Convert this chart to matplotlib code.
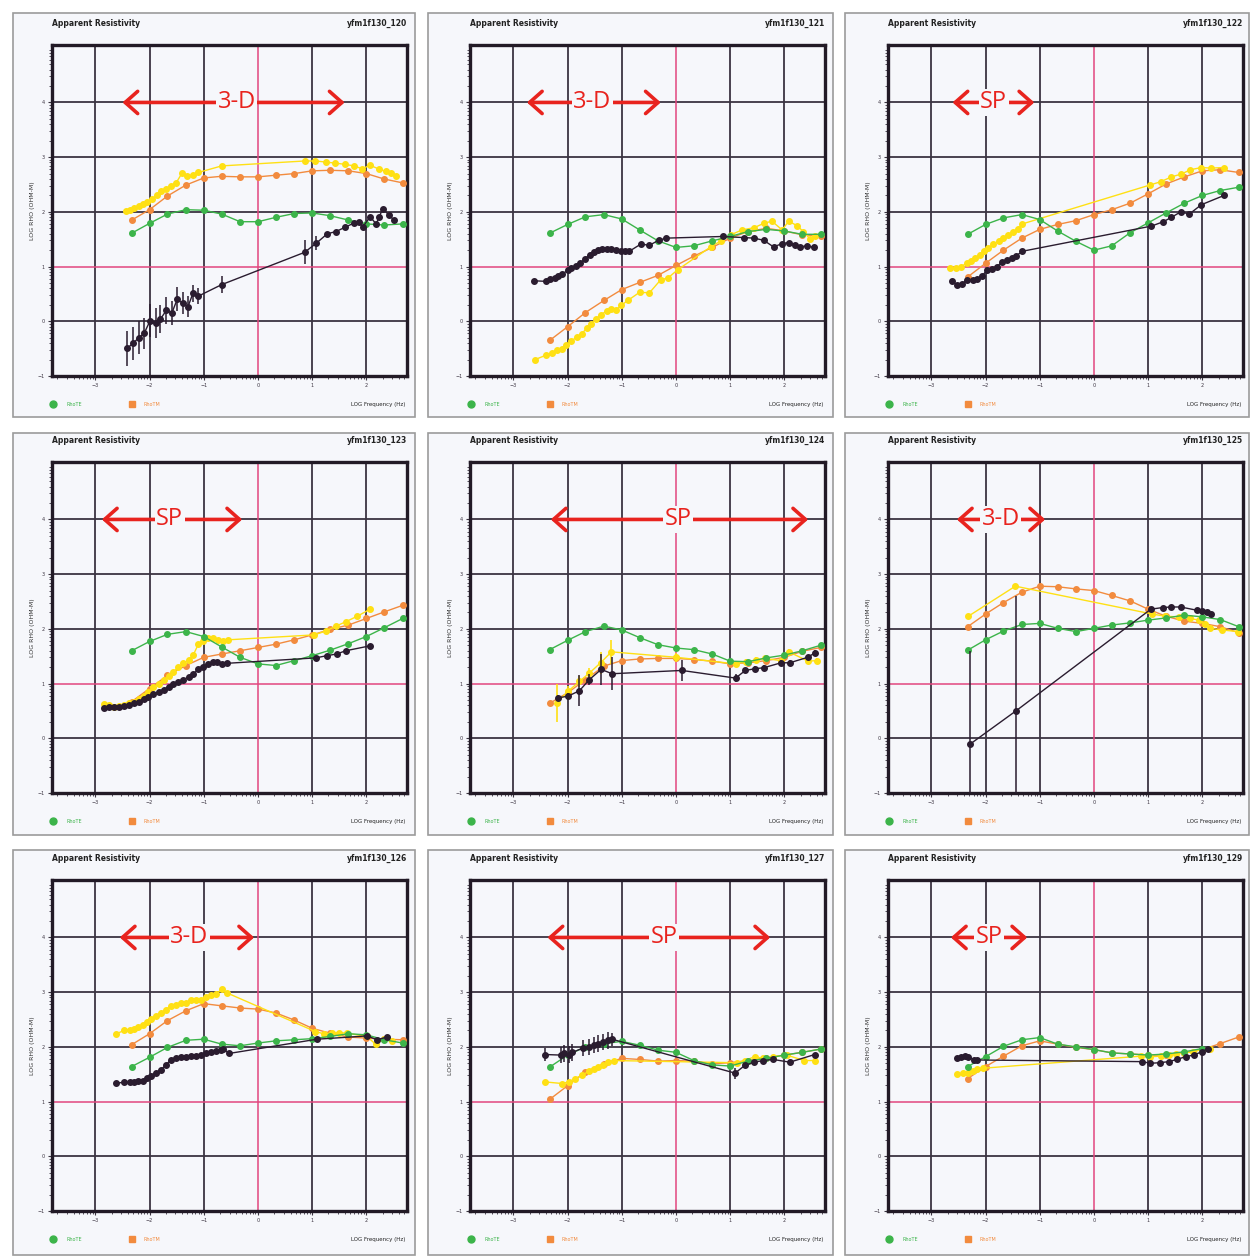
import matplotlib.pyplot as plt
import numpy as np
from matplotlib.patches import Rectangle
from matplotlib.ticker import FixedLocator

# sounding frequencies shared by the TE/TM curves, log10(Hz)
freq = [-2.33, -2.0, -1.67, -1.33, -1.0, -0.67, -0.33, 0.0, 0.33, 0.67, 1.0, 1.33, 1.67, 2.0, 2.33, 2.67]

# ---- yfm1f130_120
te_120 = [1.61, 1.79, 1.96, 2.04, 2.03, 1.96, 1.82, 1.82, 1.90, 1.97, 1.98, 1.93, 1.85, 1.78, 1.76, 1.78]
tm_120 = [1.85, 2.04, 2.29, 2.49, 2.62, 2.65, 2.64, 2.64, 2.67, 2.70, 2.75, 2.76, 2.75, 2.70, 2.60, 2.53]
yx_120 = [-2.44, -2.36, -2.28, -2.20, -2.12, -2.04, -1.95, -1.86, -1.79, -1.69, -1.60, -1.51, -1.40, -1.31, -1.20, -1.10,
          -0.67, 0.86, 1.06, 1.26, 1.43, 1.60, 1.77, 1.92, 2.07, 2.24, 2.36, 2.45, 2.54]
yy_120 = [2.01, 2.03, 2.07, 2.11, 2.15, 2.18, 2.24, 2.31, 2.38, 2.42, 2.47, 2.53, 2.71, 2.65, 2.67, 2.72,
          2.84, 2.93, 2.93, 2.91, 2.89, 2.87, 2.84, 2.79, 2.85, 2.78, 2.74, 2.71, 2.65]
bx_120 = [-2.41, -2.30, -2.20, -2.10, -1.99, -1.89, -1.80, -1.69, -1.59, -1.49, -1.39, -1.29, -1.20, -1.10, -0.67,
          0.86, 1.08, 1.28, 1.44, 1.61, 1.78, 1.87, 1.93, 2.07, 2.18, 2.24, 2.30, 2.42, 2.51]
by_120 = [-0.49, -0.40, -0.30, -0.22, 0.01, -0.03, 0.04, 0.20, 0.15, 0.40, 0.33, 0.27, 0.51, 0.46, 0.67,
          1.26, 1.43, 1.60, 1.64, 1.72, 1.80, 1.82, 1.72, 1.91, 1.78, 1.91, 2.06, 1.94, 1.85]
be_120 = [0.32, 0.30, 0.30, 0.28, 0.30, 0.28, 0.25, 0.25, 0.22, 0.22, 0.20, 0.20, 0.15, 0.15, 0.15,
          0.22, 0.12, 0.04, 0.03, 0.03, 0.03, 0.03, 0.03, 0.03, 0.03, 0.03, 0.03, 0.03, 0.03]

# ---- yfm1f130_121
te_121 = [1.61, 1.77, 1.91, 1.95, 1.87, 1.67, 1.47, 1.35, 1.38, 1.47, 1.55, 1.64, 1.68, 1.65, 1.59, 1.59]
tm_121 = [-0.35, -0.10, 0.16, 0.38, 0.58, 0.71, 0.84, 1.02, 1.19, 1.35, 1.52, 1.64, 1.70, 1.65, 1.58, 1.56]
yx_121 = [-2.60, -2.40, -2.29, -2.20, -2.11, -2.02, -1.93, -1.83, -1.74, -1.65, -1.56, -1.47, -1.38, -1.28, -1.19,
          -1.10, -1.01, -0.89, -0.67, -0.49, -0.28, -0.15, 0.03, 0.64, 0.83, 1.01, 1.22, 1.44, 1.62, 1.77, 1.96,
          2.08, 2.23, 2.35, 2.48, 2.57]
yy_121 = [-0.70, -0.62, -0.58, -0.53, -0.50, -0.44, -0.36, -0.29, -0.23, -0.13, -0.05, 0.05, 0.12, 0.19, 0.23,
          0.21, 0.29, 0.38, 0.53, 0.52, 0.76, 0.79, 0.94, 1.36, 1.47, 1.58, 1.67, 1.71, 1.79, 1.83, 1.67,
          1.83, 1.75, 1.64, 1.50, 1.55]
bx_121 = [-2.61, -2.40, -2.32, -2.24, -2.17, -2.10, -2.00, -1.93, -1.85, -1.77, -1.68, -1.59, -1.51, -1.44, -1.36,
          -1.28, -1.19, -1.10, -1.01, -0.94, -0.86, -0.65, -0.49, -0.32, -0.18, 0.86, 1.25, 1.44, 1.62, 1.80,
          1.96, 2.08, 2.20, 2.29, 2.42, 2.54]
by_121 = [0.74, 0.73, 0.78, 0.80, 0.83, 0.86, 0.93, 0.97, 1.01, 1.06, 1.14, 1.22, 1.27, 1.30, 1.32,
          1.33, 1.32, 1.30, 1.29, 1.28, 1.28, 1.41, 1.39, 1.48, 1.52, 1.55, 1.53, 1.52, 1.48, 1.36,
          1.42, 1.44, 1.39, 1.36, 1.38, 1.35]

# ---- yfm1f130_122
te_122 = [1.59, 1.77, 1.89, 1.95, 1.86, 1.65, 1.46, 1.30, 1.38, 1.62, 1.80, 1.98, 2.16, 2.30, 2.39, 2.45]
tm_122 = [0.81, 1.06, 1.30, 1.52, 1.68, 1.77, 1.84, 1.95, 2.04, 2.16, 2.33, 2.51, 2.64, 2.75, 2.77, 2.72]
yx_122 = [-2.65, -2.54, -2.45, -2.35, -2.27, -2.19, -2.10, -2.03, -1.95, -1.86, -1.76, -1.67, -1.58, -1.49, -1.40,
          -1.32, 1.03, 1.23, 1.43, 1.61, 1.78, 1.98, 2.16, 2.40]
yy_122 = [0.98, 0.98, 1.00, 1.06, 1.11, 1.16, 1.21, 1.28, 1.34, 1.41, 1.47, 1.52, 1.58, 1.64, 1.68,
          1.78, 2.49, 2.55, 2.64, 2.69, 2.77, 2.81, 2.80, 2.81]
bx_122 = [-2.62, -2.52, -2.43, -2.35, -2.23, -2.15, -2.07, -1.98, -1.89, -1.79, -1.70, -1.61, -1.52, -1.43, -1.32,
          1.06, 1.28, 1.43, 1.60, 1.76, 1.98, 2.40]
by_122 = [0.73, 0.66, 0.69, 0.75, 0.75, 0.78, 0.82, 0.93, 0.96, 1.00, 1.08, 1.12, 1.16, 1.20, 1.28,
          1.74, 1.82, 1.90, 2.00, 1.96, 2.13, 2.30]

# ---- yfm1f130_123
te_123 = [1.60, 1.77, 1.90, 1.95, 1.86, 1.67, 1.48, 1.36, 1.33, 1.42, 1.51, 1.61, 1.73, 1.86, 2.02, 2.19]
tm_123 = [0.67, 0.91, 1.15, 1.33, 1.48, 1.54, 1.60, 1.66, 1.72, 1.80, 1.89, 1.99, 2.07, 2.19, 2.31, 2.43]
yx_123 = [-2.84, -2.75, -2.66, -2.57, -2.48, -2.38, -2.29, -2.20, -2.11, -2.02, -1.93, -1.83, -1.74, -1.65, -1.56,
          -1.47, -1.38, -1.28, -1.19, -1.10, -1.01, -0.92, -0.83, -0.73, -0.64, -0.55, 1.04, 1.25, 1.44, 1.62,
          1.83, 2.07]
yy_123 = [0.63, 0.60, 0.58, 0.59, 0.61, 0.64, 0.67, 0.71, 0.77, 0.85, 0.93, 1.00, 1.07, 1.13, 1.21,
          1.30, 1.37, 1.43, 1.53, 1.72, 1.78, 1.83, 1.84, 1.80, 1.78, 1.80, 1.89, 1.96, 2.05, 2.13,
          2.23, 2.36]
bx_123 = [-2.84, -2.75, -2.66, -2.57, -2.48, -2.38, -2.29, -2.20, -2.11, -2.02, -1.93, -1.83, -1.74, -1.65, -1.56,
          -1.47, -1.38, -1.28, -1.19, -1.10, -1.01, -0.92, -0.83, -0.76, -0.67, -0.58, 1.07, 1.27, 1.45, 1.62,
          2.07]
by_123 = [0.55, 0.57, 0.57, 0.58, 0.59, 0.61, 0.64, 0.67, 0.71, 0.76, 0.81, 0.85, 0.89, 0.94, 0.99,
          1.03, 1.07, 1.12, 1.17, 1.27, 1.31, 1.36, 1.40, 1.39, 1.36, 1.37, 1.47, 1.51, 1.54, 1.60,
          1.69]

# ---- yfm1f130_124
te_124 = [1.62, 1.79, 1.95, 2.05, 1.98, 1.84, 1.71, 1.65, 1.62, 1.54, 1.41, 1.40, 1.47, 1.52, 1.60, 1.70]
tm_124 = [0.64, 0.83, 1.07, 1.32, 1.42, 1.45, 1.46, 1.46, 1.44, 1.41, 1.36, 1.38, 1.42, 1.48, 1.59, 1.66]
yx_124 = [-2.20, -1.99, -1.78, -1.60, -1.39, -1.19, 0.01, 1.10, 1.30, 1.47, 1.64, 1.93, 2.08, 2.44, 2.60]
yy_124 = [0.65, 0.86, 1.04, 1.19, 1.38, 1.58, 1.48, 1.36, 1.40, 1.43, 1.46, 1.42, 1.58, 1.41, 1.42]
ye_124 = [0.35, 0.10, 0.10, 0.10, 0.20, 0.22, 0.08, 0.05, 0.05, 0.05, 0.05, 0.05, 0.05, 0.05, 0.05]
bx_124 = [-2.17, -1.99, -1.78, -1.60, -1.38, -1.18, 0.11, 1.10, 1.28, 1.45, 1.62, 1.94, 2.10, 2.43, 2.56]
by_124 = [0.74, 0.77, 0.87, 1.07, 1.26, 1.18, 1.24, 1.10, 1.24, 1.27, 1.29, 1.38, 1.38, 1.48, 1.56]
be_124 = [0.05, 0.05, 0.28, 0.10, 0.28, 0.30, 0.20, 0.08, 0.05, 0.05, 0.05, 0.05, 0.05, 0.05, 0.05]

# ---- yfm1f130_125
te_125 = [1.61, 1.80, 1.96, 2.08, 2.10, 2.01, 1.95, 2.01, 2.07, 2.11, 2.16, 2.20, 2.25, 2.22, 2.17, 2.04]
tm_125 = [2.04, 2.27, 2.48, 2.67, 2.78, 2.77, 2.73, 2.70, 2.61, 2.51, 2.36, 2.23, 2.14, 2.10, 2.04, 1.93]
yx_125 = [-2.32, -1.45, 1.08, 1.32, 1.57, 1.78, 1.93, 2.05, 2.15, 2.36, 2.66]
yy_125 = [2.23, 2.78, 2.27, 2.23, 2.22, 2.19, 2.16, 2.08, 2.01, 1.98, 1.95]
bx_125 = [-2.29, -1.44, 1.05, 1.27, 1.43, 1.60, 1.90, 1.99, 2.09, 2.16]
by_125 = [-0.11, 0.50, 2.36, 2.39, 2.40, 2.40, 2.34, 2.33, 2.30, 2.27]
be_125 = [1.70, 2.10, 0.03, 0.03, 0.03, 0.03, 0.03, 0.03, 0.03, 0.03]

# ---- yfm1f130_126
te_126 = [1.64, 1.81, 1.99, 2.12, 2.14, 2.05, 2.02, 2.07, 2.11, 2.13, 2.15, 2.19, 2.24, 2.22, 2.13, 2.07]
tm_126 = [2.04, 2.24, 2.48, 2.66, 2.79, 2.75, 2.71, 2.69, 2.62, 2.49, 2.34, 2.25, 2.18, 2.16, 2.14, 2.13]
yx_126 = [-2.61, -2.47, -2.37, -2.29, -2.21, -2.13, -2.05, -1.98, -1.88, -1.79, -1.70, -1.61, -1.52, -1.42, -1.33,
          -1.24, -1.15, -1.06, -0.96, -0.87, -0.78, -0.66, -0.58, 1.06, 1.21, 1.37, 1.49, 1.64, 2.01, 2.17,
          2.32, 2.47]
yy_126 = [2.24, 2.30, 2.31, 2.33, 2.36, 2.40, 2.45, 2.51, 2.57, 2.62, 2.68, 2.75, 2.77, 2.80, 2.81,
          2.85, 2.86, 2.86, 2.91, 2.95, 2.97, 3.05, 2.99, 2.28, 2.24, 2.25, 2.26, 2.25, 2.19, 2.05,
          2.14, 2.10]
bx_126 = [-2.61, -2.47, -2.37, -2.29, -2.21, -2.13, -2.05, -1.98, -1.88, -1.79, -1.70, -1.61, -1.52, -1.42, -1.33,
          -1.24, -1.15, -1.06, -0.96, -0.87, -0.78, -0.69, -0.64, -0.53, 1.09, 2.01, 2.20, 2.38]
by_126 = [1.34, 1.35, 1.35, 1.35, 1.37, 1.38, 1.43, 1.47, 1.52, 1.58, 1.67, 1.76, 1.79, 1.81, 1.82,
          1.84, 1.84, 1.85, 1.88, 1.91, 1.93, 1.95, 1.96, 1.88, 2.14, 2.20, 2.13, 2.18]

# ---- yfm1f130_127
te_127 = [1.63, 1.85, 2.00, 2.06, 2.10, 2.03, 1.94, 1.90, 1.75, 1.67, 1.65, 1.74, 1.79, 1.85, 1.90, 1.96]
tm_127 = [1.04, 1.29, 1.54, 1.69, 1.79, 1.77, 1.74, 1.75, 1.74, 1.69, 1.71, 1.75, 1.80, 1.85, 1.90, 1.96]
yx_127 = [-2.42, -2.10, -1.98, -1.86, -1.74, -1.61, -1.52, -1.43, -1.34, -1.25, -1.15, 1.12, 1.27, 1.45, 1.61,
          1.79, 2.04, 2.37, 2.57]
yy_127 = [1.36, 1.33, 1.36, 1.42, 1.48, 1.55, 1.59, 1.63, 1.66, 1.72, 1.75, 1.71, 1.75, 1.82, 1.79,
          1.82, 1.85, 1.75, 1.75]
bx_127 = [-2.41, -2.13, -2.06, -1.98, -1.91, -1.71, -1.61, -1.52, -1.43, -1.34, -1.26, -1.18, 1.09, 1.27, 1.44,
          1.61, 1.79, 2.10, 2.56]
by_127 = [1.86, 1.85, 1.88, 1.86, 1.90, 1.98, 2.00, 2.03, 2.06, 2.09, 2.12, 2.14, 1.52, 1.66, 1.72,
          1.75, 1.77, 1.72, 1.86]
be_127 = [0.12, 0.15, 0.15, 0.15, 0.15, 0.15, 0.15, 0.15, 0.15, 0.15, 0.15, 0.12, 0.10, 0.03, 0.03,
          0.03, 0.03, 0.03, 0.03]

# ---- yfm1f130_129
te_129 = [1.64, 1.82, 2.01, 2.13, 2.17, 2.05, 2.00, 1.95, 1.89, 1.87, 1.85, 1.87, 1.91, 1.97]
tm_129 = [1.42, 1.64, 1.83, 2.02, 2.11, 2.05, 1.99, 1.95, 1.89, 1.87, 1.85, 1.85, 1.89, 1.95, 2.06, 2.18]
yx_129 = [-2.53, -2.42, -2.33, -2.24, -2.15, -2.04, 0.86, 1.04, 1.23, 1.38, 1.52, 1.67, 1.83, 1.99, 2.15]
yy_129 = [1.50, 1.52, 1.53, 1.56, 1.59, 1.61, 1.83, 1.82, 1.83, 1.85, 1.87, 1.89, 1.91, 1.95, 1.97]
bx_129 = [-2.53, -2.45, -2.38, -2.32, -2.22, -2.16, 0.89, 1.04, 1.21, 1.38, 1.53, 1.69, 1.84, 1.99, 2.10]
by_129 = [1.80, 1.81, 1.83, 1.82, 1.76, 1.76, 1.73, 1.70, 1.71, 1.73, 1.77, 1.82, 1.85, 1.91, 1.97]

# arrow annotations: label, start, end, text position
notes = [("3-D", -2.50, 1.60, -0.39), ("3-D", -2.75, -0.28, -1.54), ("SP", -2.61, -1.10, -1.85),
         ("SP", -2.88, -0.29, -1.63), ("SP", -2.31, 2.44, 0.04), ("3-D", -2.53, -0.90, -1.72),
         ("3-D", -2.55, -0.07, -1.27), ("SP", -2.37, 1.74, -0.22), ("SP", -2.64, -1.23, -1.93)]

panels = [
    ("yfm1f130_120", te_120, tm_120, yx_120, yy_120, None, bx_120, by_120, be_120),
    ("yfm1f130_121", te_121, tm_121, yx_121, yy_121, None, bx_121, by_121, None),
    ("yfm1f130_122", te_122, tm_122, yx_122, yy_122, None, bx_122, by_122, None),
    ("yfm1f130_123", te_123, tm_123, yx_123, yy_123, None, bx_123, by_123, None),
    ("yfm1f130_124", te_124, tm_124, yx_124, yy_124, ye_124, bx_124, by_124, be_124),
    ("yfm1f130_125", te_125, tm_125, yx_125, yy_125, None, bx_125, by_125, be_125),
    ("yfm1f130_126", te_126, tm_126, yx_126, yy_126, None, bx_126, by_126, None),
    ("yfm1f130_127", te_127, tm_127, yx_127, yy_127, None, bx_127, by_127, be_127),
    ("yfm1f130_129", te_129, tm_129, yx_129, yy_129, None, bx_129, by_129, None),
]

GREEN = '#3cb44a'
ORANGE = '#f28b3e'
YELLOW = '#ffe014'
BLACK = '#2a1c2f'
PINK = '#e2467f'
GRID = '#3b3441'
BG = '#f6f7fb'
MS = 4

W, H = 1251, 1259
fig = plt.figure(figsize=(W / 100, H / 100), dpi=100, facecolor='white')

col_frame = [(13, 402), (428, 405), (845, 404)]
row_frame = [(13, 404), (433, 402), (850, 405)]
col_ax = [52, 470, 888]
row_ax = [45, 462, 880]
ax_w, ax_h = 355, 331

minor = [d + np.log10(k) for d in range(-4, 6) for k in range(2, 10)]

for i, (name, te, tm, yx, yy, ye, bx, by, be) in enumerate(panels):
    r, c = divmod(i, 3)
    fx, fw = col_frame[c]
    fy, fh = row_frame[r]
    fig.add_artist(Rectangle((fx / W, 1 - (fy + fh) / H), fw / W, fh / H, transform=fig.transFigure,
                             facecolor=BG, edgecolor='#9b9b9b', lw=1.2, zorder=-5))
    ax = fig.add_axes([col_ax[c] / W, 1 - (row_ax[r] + ax_h) / H, ax_w / W, ax_h / H])
    ax.set_facecolor(BG)
    ax.set_xlim(-3.8, 2.75)
    ax.set_ylim(-1, 5.05)

    for gx in [-3, -2, -1, 1, 2]:
        ax.axvline(gx, color=GRID, lw=1.3, zorder=1)
    for gy in [0, 2, 3, 4]:
        ax.axhline(gy, color=GRID, lw=1.3, zorder=1)
    ax.axvline(0, color=PINK, lw=1.1, zorder=1)
    ax.axhline(1, color=PINK, lw=1.1, zorder=1)

    ax.xaxis.set_major_locator(FixedLocator([-3, -2, -1, 0, 1, 2]))
    ax.yaxis.set_major_locator(FixedLocator([-1, 0, 1, 2, 3, 4]))
    ax.xaxis.set_minor_locator(FixedLocator(minor))
    ax.yaxis.set_minor_locator(FixedLocator(minor))
    ax.tick_params(which='major', direction='out', length=3, width=0.8, labelsize=3.5, pad=2, colors=GRID)
    ax.tick_params(which='minor', direction='out', length=2, width=0.6, colors=GRID)
    for s in ax.spines.values():
        s.set_linewidth(2.4)
        s.set_color('#221a26')

    # curves
    ax.plot(freq, tm, '-o', color=ORANGE, ms=MS, lw=1, zorder=3)
    if ye is not None:
        ax.errorbar(yx, yy, yerr=ye, fmt='-o', color=YELLOW, ms=MS, lw=1, elinewidth=1.2, capsize=0, zorder=4)
    else:
        ax.plot(yx, yy, '-o', color=YELLOW, ms=MS, lw=1, zorder=4)
    ax.plot(freq[:len(te)], te, '-o', color=GREEN, ms=MS, lw=1, zorder=5)
    if be is not None:
        ax.errorbar(bx, by, yerr=be, fmt='-o', color=BLACK, ms=MS, lw=1, elinewidth=1.1, capsize=0, zorder=6)
    else:
        ax.plot(bx, by, '-o', color=BLACK, ms=MS, lw=1, zorder=6)

    # red arrow annotation
    label, x0, x1, xt = notes[i]
    ax.annotate('', xy=(x1, 4.0), xytext=(x0, 4.0),
                arrowprops=dict(arrowstyle='<->,head_length=0.45,head_width=0.4', color='#e8231e',
                                lw=2.6, mutation_scale=20, shrinkA=0, shrinkB=0), zorder=7)
    ax.text(xt, 4.0, label, color='#e8231e', fontsize=17, ha='center', va='center', family='Open Sans',
            bbox=dict(facecolor=BG, edgecolor='none', pad=1), zorder=8)

    # panel text
    ax.text(0, 1.065, 'Apparent Resistivity', transform=ax.transAxes, fontsize=5.5, fontweight='bold',
            ha='left', va='center', color='#222222')
    ax.text(1, 1.065, name, transform=ax.transAxes, fontsize=5.5, fontweight='bold',
            ha='right', va='center', color='#222222')
    ax.text(-0.055, 0.5, 'LOG RHO (OHM-M)', transform=ax.transAxes, fontsize=4.5, rotation=90,
            ha='center', va='center', color='#333333')
    ax.plot([0.002], [-0.085], 'o', color=GREEN, ms=5, transform=ax.transAxes, clip_on=False)
    ax.text(0.04, -0.085, 'RhoTE', transform=ax.transAxes, fontsize=3.5, color=GREEN, va='center')
    ax.plot([0.224], [-0.085], 's', color=ORANGE, ms=4.5, transform=ax.transAxes, clip_on=False)
    ax.text(0.257, -0.085, 'RhoTM', transform=ax.transAxes, fontsize=3.5, color=ORANGE, va='center')
    ax.text(0.995, -0.085, 'LOG Frequency (Hz)', transform=ax.transAxes, fontsize=4, color='#222222',
            ha='right', va='center')

fig.savefig('out.png', dpi=100, facecolor='white')
